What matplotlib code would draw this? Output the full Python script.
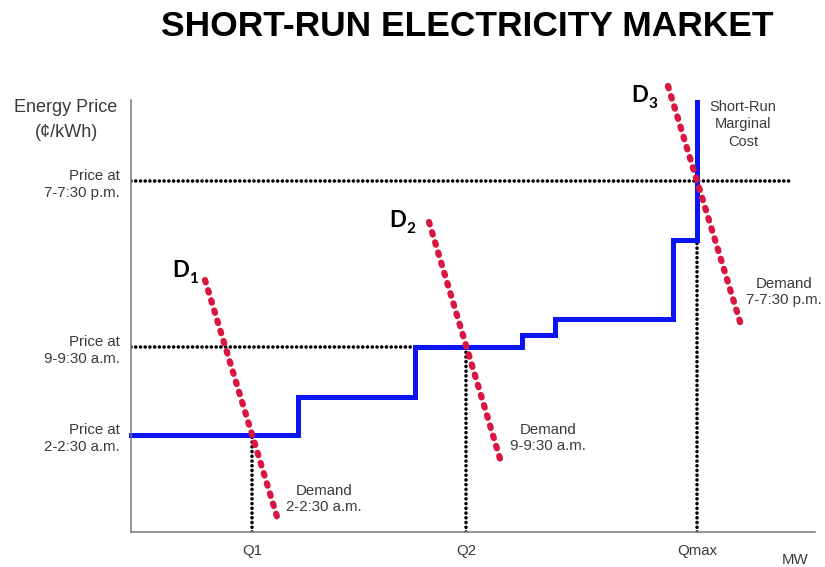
import matplotlib
matplotlib.use("Agg")
import matplotlib.pyplot as plt

plt.rcParams['font.family'] = ['Liberation Sans', 'DejaVu Sans']

# supply curve: capacity breakpoints (MW) and the price of each block
supply_mw = [0, 167, 284, 391, 424, 542, 566]
supply_price = [97, 135, 185, 197, 213, 292, 430]

# demand curves, one per time of day (end points)
demand_mw = [[74, 147], [298, 370], [537, 610]]
demand_price = [[252, 12], [310, 70], [446, 207]]
demand_names = ["1", "2", "3"]
demand_notes = ["Demand\n2-2:30 a.m.", "Demand\n9-9:30 a.m.", "Demand\n7-7:30 p.m."]

# market clearing quantities and prices
q_labels = ["Q1", "Q2", "Qmax"]
q_values = [121, 335, 566]
q_guide_top = [97, 185, 292]
p_labels = ["Price at\n2-2:30 a.m.", "Price at\n9-9:30 a.m.", "Price at\n7-7:30 p.m."]
p_values = [97, 185, 351]
p_guide_end = [0, 335, 659]

W, H = 825, 567
fig = plt.figure(figsize=(W / 100, H / 100), dpi=100)
ax = fig.add_axes([131 / W, (H - 532) / H, 684 / W, 432 / H])
ax.set_xlim(0, 684)
ax.set_ylim(0, 432)

txt = '#3a3a3a'
blue = '#0a14f5'
red = '#d8163f'

# dotted guide lines
dot = dict(color='black', lw=2.6, linestyle=(0, (0.01, 1.3)),
           dash_capstyle='round', zorder=1)
for q, top in zip(q_values, q_guide_top):
    ax.plot([q, q], [0, top], **dot)
for p, end in zip(p_values, p_guide_end):
    if end > 0:
        ax.plot([0, end], [p, p], **dot)

ax.step(supply_mw, supply_price, where='post', color=blue, lw=3.6,
        solid_joinstyle='miter', zorder=2, clip_on=False)

for xs, ys in zip(demand_mw, demand_price):
    ax.plot(xs, ys, color=red, lw=4.5, linestyle=(0, (0.4, 1.3)),
            dash_capstyle='round', zorder=3, clip_on=False)

# D labels with subscripts
d_pos = [(41, 255), (258, 305), (500, 430)]
for (x, y), n in zip(d_pos, demand_names):
    ax.text(x, y, "D", fontsize=16, fontweight='bold', family='Lato',
            ha='left', va='baseline', color='black')
    ax.annotate(n, xy=(x, y), xytext=(12.5, -4.5), textcoords='offset points',
                fontsize=11, fontweight='bold', family='Lato',
                ha='left', va='baseline', color='black', annotation_clip=False)

note_pos = [(193, 33), (417, 94), (653, 240)]
for (x, y), s in zip(note_pos, demand_notes):
    ax.text(x, y, s, fontsize=10.8, color=txt, ha='center', va='center',
            linespacing=1.2, clip_on=False)

ax.text(612, 432, "Short-Run\nMarginal\nCost", fontsize=10.5, color=txt,
        ha='center', va='top', linespacing=1.3)

ax.set_xticks(q_values)
ax.set_xticklabels(q_labels)
ax.set_yticks(p_values)
ax.set_yticklabels(p_labels, multialignment='right', linespacing=1.3)
ax.tick_params(length=0, labelsize=10.8, labelcolor=txt)
ax.tick_params(axis='x', pad=9)
ax.tick_params(axis='y', pad=8)

for s in ['top', 'right']:
    ax.spines[s].set_visible(False)
for s in ['left', 'bottom']:
    ax.spines[s].set_color('#777777')
    ax.spines[s].set_linewidth(1.1)

fig.text(66 / W, 1 - 120 / H, "Energy Price\n(¢/kWh)", fontsize=13,
         color=txt, ha='center', va='center', linespacing=1.55)
fig.text(795 / W, 1 - 560 / H, "MW", fontsize=10.8, color=txt,
         ha='center', va='center')
fig.text(467 / W, 1 - 27 / H, "SHORT-RUN ELECTRICITY MARKET", fontsize=25.5,
         fontweight='bold', ha='center', va='center', color='black')

fig.savefig("out.png", dpi=100, facecolor='white')
